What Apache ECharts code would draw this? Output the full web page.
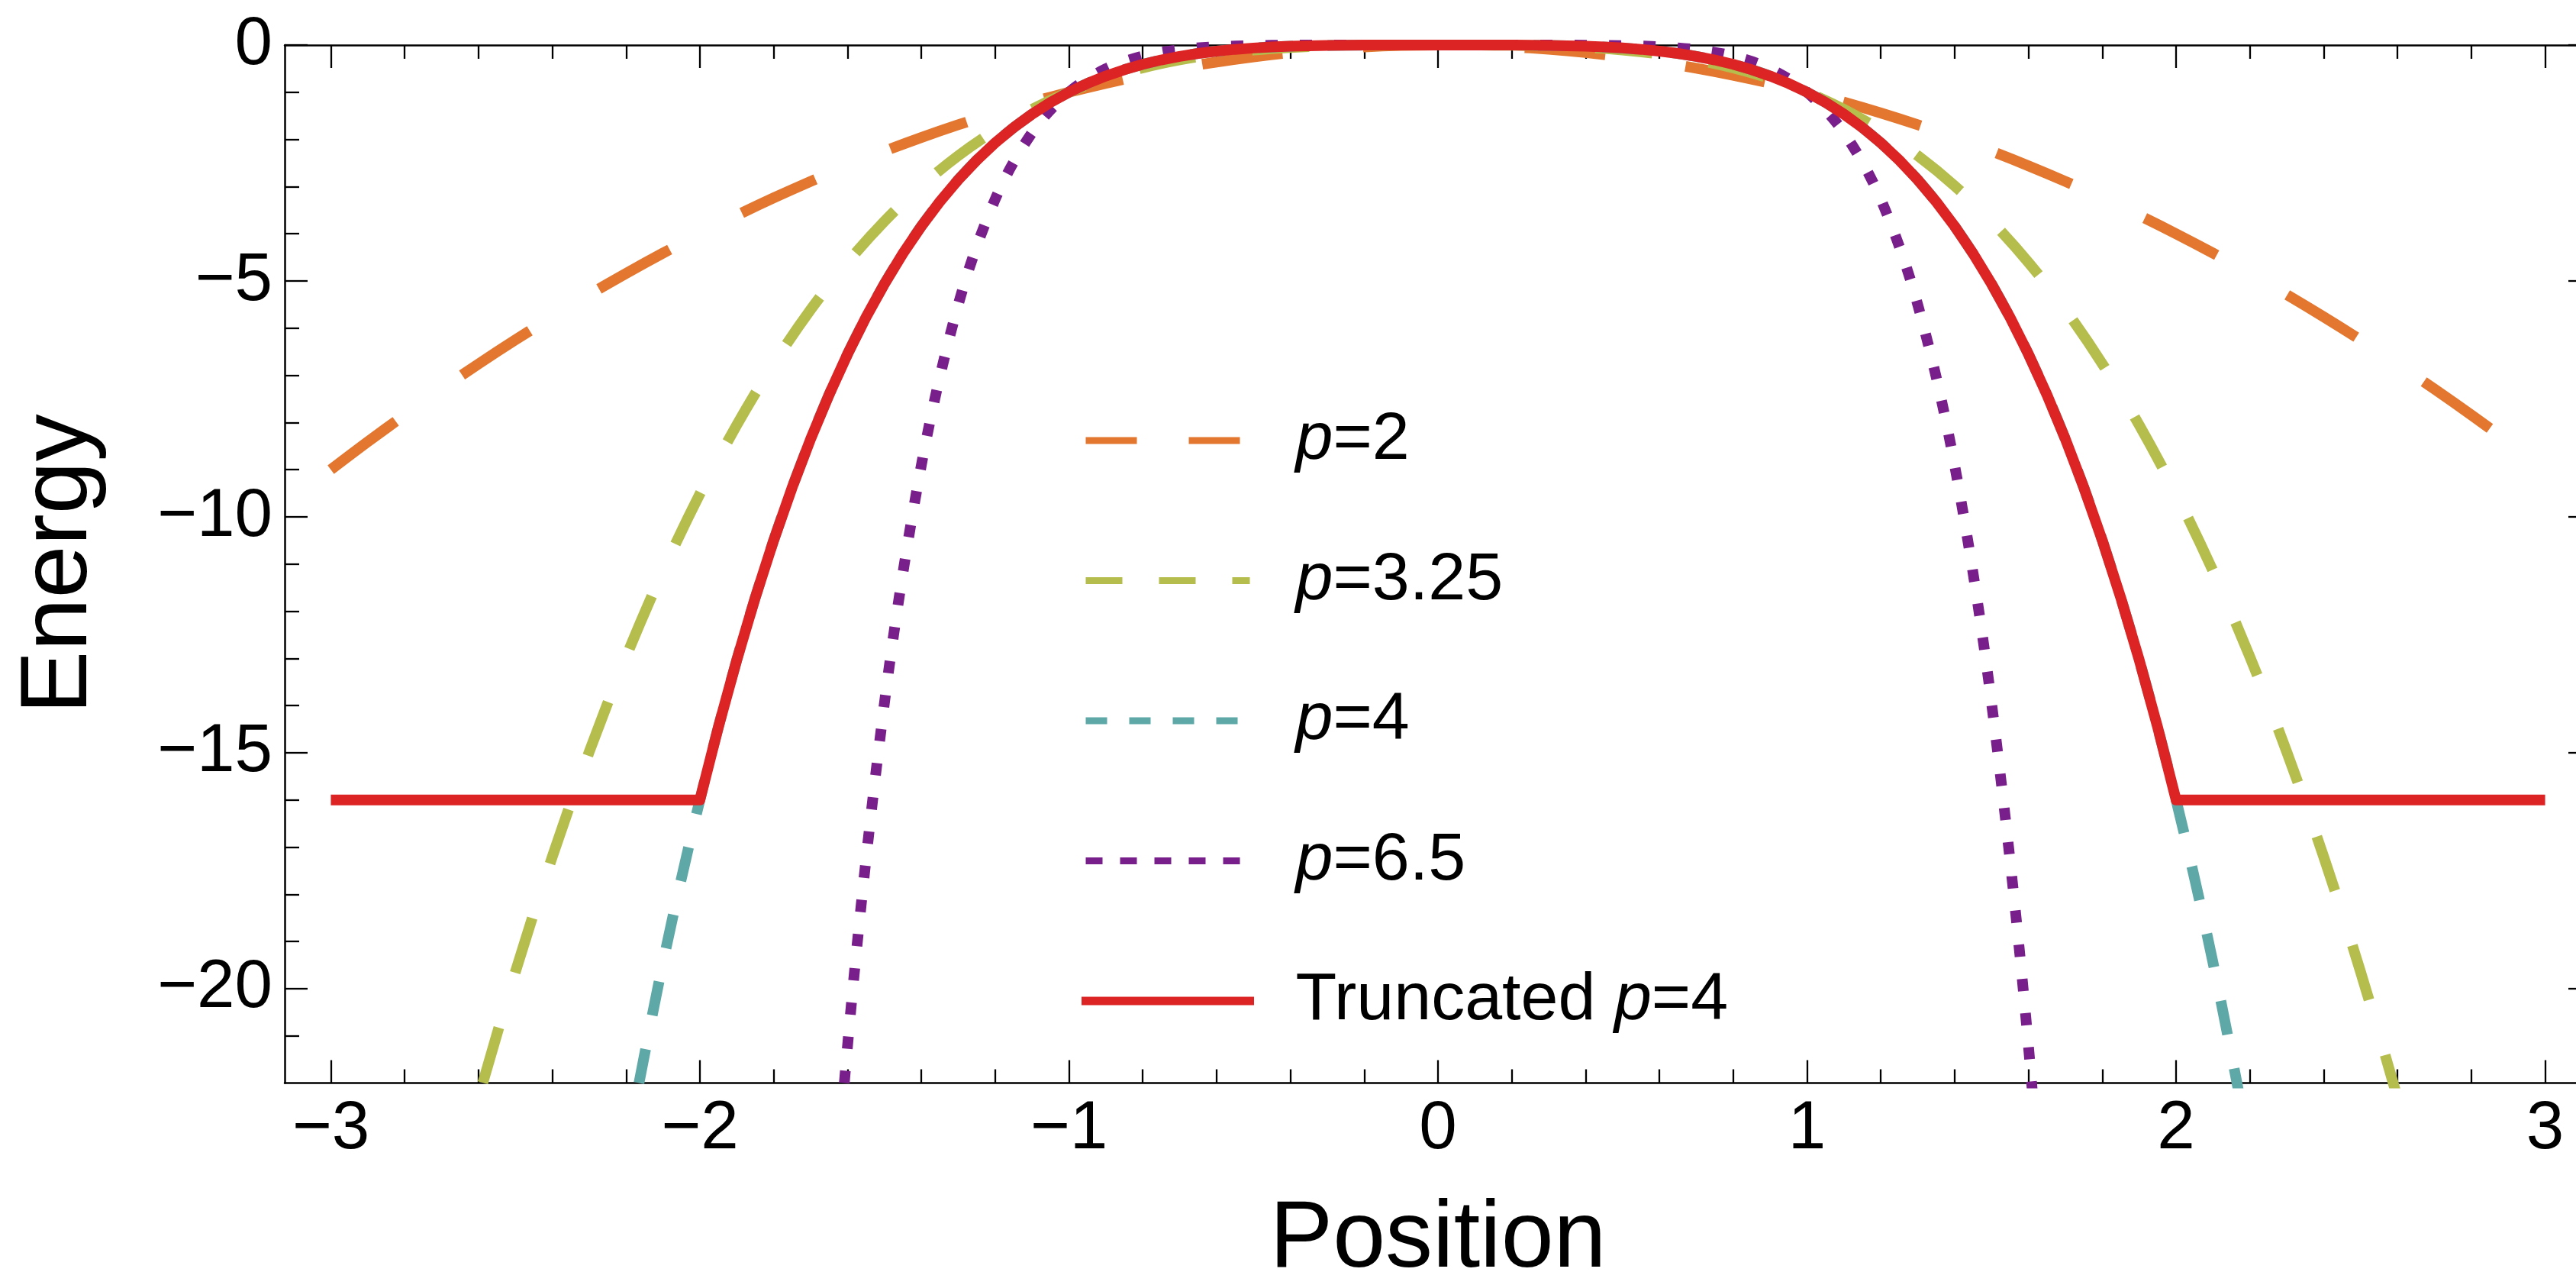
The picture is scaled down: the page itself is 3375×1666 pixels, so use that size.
<!DOCTYPE html>
<html>
<head>
<meta charset="utf-8">
<title>Energy vs Position</title>
<script src="https://cdn.jsdelivr.net/npm/echarts@6/dist/echarts.min.js"></script>
<style>
  html, body { margin: 0; padding: 0; background: #ffffff; }
  #chart { width: 3375px; height: 1666px; }
</style>
</head>
<body>
<div id="chart"></div>
<script>
// Sample positions shared by the four power-law curves
const positions = [
  -3.0, -2.9, -2.8, -2.7, -2.6, -2.5, -2.4, -2.3, -2.2, -2.1,
  -2.0, -1.9, -1.8, -1.7, -1.6, -1.5, -1.4, -1.3, -1.2, -1.1,
  -1.0, -0.9, -0.8, -0.7, -0.6, -0.5, -0.4, -0.3, -0.2, -0.1,
   0.0,
   0.1,  0.2,  0.3,  0.4,  0.5,  0.6,  0.7,  0.8,  0.9,  1.0,
   1.1,  1.2,  1.3,  1.4,  1.5,  1.6,  1.7,  1.8,  1.9,  2.0,
   2.1,  2.2,  2.3,  2.4,  2.5,  2.6,  2.7,  2.8,  2.9,  3.0
];

// Energy for p = 2
const energyP2 = [
  -9, -8.41, -7.84, -7.29, -6.76, -6.25, -5.76, -5.29, -4.84, -4.41,
  -4, -3.61, -3.24, -2.89, -2.56, -2.25, -1.96, -1.69, -1.44, -1.21,
  -1, -0.81, -0.64, -0.49, -0.36, -0.25, -0.16, -0.09, -0.04, -0.01,
  0,
  -0.01, -0.04, -0.09, -0.16, -0.25, -0.36, -0.49, -0.64, -0.81, -1,
  -1.21, -1.44, -1.69, -1.96, -2.25, -2.56, -2.89, -3.24, -3.61, -4,
  -4.41, -4.84, -5.29, -5.76, -6.25, -6.76, -7.29, -7.84, -8.41, -9
];

// Energy for p = 3.25 (null where the curve is far below the axis)
const energyP325 = [
  null, null, null, null, -22.318, -19.647, -17.207, -14.984, -12.968, -11.148,
  -9.514, -8.053, -6.755, -5.610, -4.607, -3.735, -2.985, -2.346, -1.809, -1.363,
  -1, -0.710, -0.484, -0.314, -0.190, -0.105, -0.051, -0.020, -0.005, -0.001,
  0,
  -0.001, -0.005, -0.020, -0.051, -0.105, -0.190, -0.314, -0.484, -0.710, -1,
  -1.363, -1.809, -2.346, -2.985, -3.735, -4.607, -5.610, -6.755, -8.053, -9.514,
  -11.148, -12.968, -14.984, -17.207, -19.647, -22.318, null, null, null, null
];

// Energy for p = 4
const energyP4 = [
  null, null, null, null, null, null, null, null, -23.426, -19.448,
  -16, -13.032, -10.498, -8.352, -6.554, -5.063, -3.842, -2.856, -2.074, -1.464,
  -1, -0.656, -0.410, -0.240, -0.130, -0.063, -0.026, -0.008, -0.002, -0.0001,
  0,
  -0.0001, -0.002, -0.008, -0.026, -0.063, -0.130, -0.240, -0.410, -0.656, -1,
  -1.464, -2.074, -2.856, -3.842, -5.063, -6.554, -8.352, -10.498, -13.032, -16,
  -19.448, -23.426, null, null, null, null, null, null, null, null
];

// Energy for p = 6.5
const energyP65 = [
  null, null, null, null, null, null, null, null, null, null,
  null, null, null, -31.471, -21.222, -13.950, -8.909, -5.504, -3.271, -1.858,
  -1, -0.504, -0.234, -0.098, -0.036, -0.011, -0.003, -0.0004, 0, 0,
  0,
  0, 0, -0.0004, -0.003, -0.011, -0.036, -0.098, -0.234, -0.504, -1,
  -1.858, -3.271, -5.504, -8.909, -13.950, -21.222, -31.471, null, null, null,
  null, null, null, null, null, null, null, null, null, null
];

// Truncated p = 4: flat floor at -16 outside |x| = 2, finer sampling on the curve
const truncPositions = [
  -3.0,
  -2.0, -1.95, -1.9, -1.85, -1.8, -1.75, -1.7, -1.65, -1.6, -1.55,
  -1.5, -1.45, -1.4, -1.35, -1.3, -1.25, -1.2, -1.15, -1.1, -1.05,
  -1.0, -0.95, -0.9, -0.85, -0.8, -0.75, -0.7, -0.65, -0.6, -0.55,
  -0.5, -0.45, -0.4, -0.35, -0.3, -0.25, -0.2, -0.15, -0.1, -0.05,
   0.0,
   0.05, 0.1, 0.15, 0.2, 0.25, 0.3, 0.35, 0.4, 0.45, 0.5,
   0.55, 0.6, 0.65, 0.7, 0.75, 0.8, 0.85, 0.9, 0.95, 1.0,
   1.05, 1.1, 1.15, 1.2, 1.25, 1.3, 1.35, 1.4, 1.45, 1.5,
   1.55, 1.6, 1.65, 1.7, 1.75, 1.8, 1.85, 1.9, 1.95, 2.0,
   3.0
];
const truncEnergy = [
  -16,
  -16, -14.459, -13.032, -11.7135, -10.4976, -9.3789, -8.3521, -7.412, -6.5536, -5.772,
  -5.0625, -4.4205, -3.8416, -3.3215, -2.8561, -2.4414, -2.0736, -1.749, -1.4641, -1.2155,
  -1, -0.8145, -0.6561, -0.522, -0.4096, -0.3164, -0.2401, -0.1785, -0.1296, -0.0915,
  -0.0625, -0.041, -0.0256, -0.015, -0.0081, -0.0039, -0.0016, -0.0005, -0.0001, 0,
  0,
  0, -0.0001, -0.0005, -0.0016, -0.0039, -0.0081, -0.015, -0.0256, -0.041, -0.0625,
  -0.0915, -0.1296, -0.1785, -0.2401, -0.3164, -0.4096, -0.522, -0.6561, -0.8145, -1,
  -1.2155, -1.4641, -1.749, -2.0736, -2.4414, -2.8561, -3.3215, -3.8416, -4.4205, -5.0625,
  -5.772, -6.5536, -7.412, -8.3521, -9.3789, -10.4976, -11.7135, -13.032, -14.459, -16,
  -16
];

// Tick positions
const xMajorTicks = [-3, -2, -1, 0, 1, 2, 3];
const xMinorTicks = [-2.8, -2.6, -2.4, -2.2, -1.8, -1.6, -1.4, -1.2, -0.8, -0.6, -0.4, -0.2,
                     0.2, 0.4, 0.6, 0.8, 1.2, 1.4, 1.6, 1.8, 2.2, 2.4, 2.6, 2.8];
const yMajorTicks = [0, -5, -10, -15, -20];
const yMinorTicks = [-1, -2, -3, -4, -6, -7, -8, -9, -11, -12, -13, -14,
                     -16, -17, -18, -19, -21];

const seriesNames = ['p=2', 'p=3.25', 'p=4', 'p=6.5', 'Truncated p=4'];

const FONT = '"Liberation Sans", Arial, Helvetica, sans-serif';
const INK = '#000000';
const FRAME_W = 2.5;
const COLORS = {
  p2: '#E3772F',
  p325: '#B5BD4C',
  p4: '#5EA8A7',
  p65: '#791F8B',
  trunc: '#DC2424'
};

const X_MIN = -3.125, X_MAX = 3.125;
const Y_MIN = -22, Y_MAX = 0;

function signed(v) {
  return v < 0 ? '\u2212' + String(-v) : String(v);
}

function pairs(xs, ys) {
  return xs.map((x, i) => [x, ys[i]]);
}

function frameAxis(kind, position, ticks, tickLen, opts) {
  const ax = {
    type: 'value',
    position: position,
    min: kind === 'x' ? X_MIN : Y_MIN,
    max: kind === 'x' ? X_MAX : Y_MAX,
    gridIndex: 0,
    splitLine: { show: false },
    axisLine: { show: !!opts.line, onZero: false, lineStyle: { color: INK, width: FRAME_W } },
    axisTick: {
      show: true, inside: true, length: tickLen, customValues: ticks,
      lineStyle: { color: INK, width: 2.3 }
    },
    axisLabel: { show: false },
    axisPointer: { show: false },
    silent: true
  };
  if (opts.labels) {
    ax.axisLabel = {
      show: true,
      customValues: ticks,
      formatter: signed,
      color: INK,
      fontFamily: FONT,
      fontSize: 89,
      margin: 16
    };
  }
  if (opts.name) {
    ax.name = opts.name;
    ax.nameLocation = 'middle';
    ax.nameGap = opts.nameGap;
    ax.nameRotate = kind === 'y' ? 90 : 0;
    ax.nameMoveOverlap = false;
    ax.nameTextStyle = { color: INK, fontFamily: FONT, fontSize: 124 };
  }
  return ax;
}

const xAxes = [
  frameAxis('x', 'bottom', xMajorTicks, 30, { line: true, labels: true, name: 'Position', nameGap: 144 }),
  frameAxis('x', 'bottom', xMinorTicks, 18, {}),
  frameAxis('x', 'top', xMajorTicks, 30, { line: true }),
  frameAxis('x', 'top', xMinorTicks, 18, {})
];
const yAxes = [
  frameAxis('y', 'left', yMajorTicks, 30, { line: true, labels: true, name: 'Energy', nameGap: 232 }),
  frameAxis('y', 'left', yMinorTicks, 19, {}),
  frameAxis('y', 'right', yMajorTicks, 30, { line: true }),
  frameAxis('y', 'right', yMinorTicks, 19, {})
];

function curve(name, xs, ys, color, dash, offset, smooth) {
  return {
    name: name,
    type: 'line',
    xAxisIndex: 0,
    yAxisIndex: 0,
    data: pairs(xs, ys),
    smooth: smooth,
    symbol: 'none',
    showSymbol: false,
    connectNulls: false,
    clip: true,
    silent: true,
    lineStyle: {
      color: color,
      width: 14,
      type: dash,
      dashOffset: offset,
      cap: 'butt',
      join: 'round'
    },
    itemStyle: { color: color },
    emphasis: { disabled: true }
  };
}

const series = [
  curve(seriesNames[0], positions, energyP2, COLORS.p2, [106, 106], 0, 0.33),
  curve(seriesNames[1], positions, energyP325, COLORS.p325, [75, 75], 129, 0.33),
  curve(seriesNames[2], positions, energyP4, COLORS.p4, [45, 45], 0, 0.33),
  curve(seriesNames[3], positions, energyP65, COLORS.p65, [16, 29], 43, 0.33),
  curve(seriesNames[4], truncPositions, truncEnergy, COLORS.trunc, 'solid', 0, false)
];

// Legend label: italic "p", upright everything else
function legendLabel(name) {
  const k = name.indexOf('p=');
  const head = k > 0 ? '{t|' + name.slice(0, k) + '}' : '';
  return '{s|}' + head + '{i|p}{t|' + name.slice(k + 1) + '}';
}

const legendText = { fontFamily: FONT, fontSize: 88, color: INK, lineHeight: 100 };

// Legend swatches: line only, no marker, each dash pattern starting with a full dash
function legendEntry(name, dash, width, color, cap) {
  return {
    name: name,
    itemStyle: { opacity: 0 },
    lineStyle: { type: dash, dashOffset: 0, width: width, color: color, cap: cap, opacity: 1 }
  };
}

const option = {
  animation: false,
  backgroundColor: '#ffffff',
  grid: {
    left: 373,
    top: 59,
    width: 3022,
    height: 1359.5,
    containLabel: false,
    outerBoundsMode: 'none',
    show: false
  },
  xAxis: xAxes,
  yAxis: yAxes,
  legend: {
    show: true,
    orient: 'vertical',
    left: 1417,
    top: 527,
    padding: 0,
    itemWidth: 215,
    itemHeight: 30,
    itemGap: 83.5,
    selectedMode: false,
    itemStyle: { opacity: 0 },
    formatter: legendLabel,
    textStyle: {
      color: INK,
      fontFamily: FONT,
      fontSize: 88,
      lineHeight: 100,
      rich: {
        s: { width: 55, lineHeight: 100 },
        t: legendText,
        i: Object.assign({}, legendText, { fontStyle: 'italic' })
      }
    },
    data: [
      legendEntry(seriesNames[0], [67, 68], 9, COLORS.p2, 'butt'),
      legendEntry(seriesNames[1], [48, 48], 9, COLORS.p325, 'butt'),
      legendEntry(seriesNames[2], [28, 29], 9, COLORS.p4, 'butt'),
      legendEntry(seriesNames[3], [22, 23], 9, COLORS.p65, 'butt'),
      legendEntry(seriesNames[4], 'solid', 11, COLORS.trunc, 'square')
    ]
  },
  series: series
};

const chart = echarts.init(document.getElementById('chart'), null, { renderer: 'canvas' });
chart.setOption(option);
</script>
</body>
</html>
